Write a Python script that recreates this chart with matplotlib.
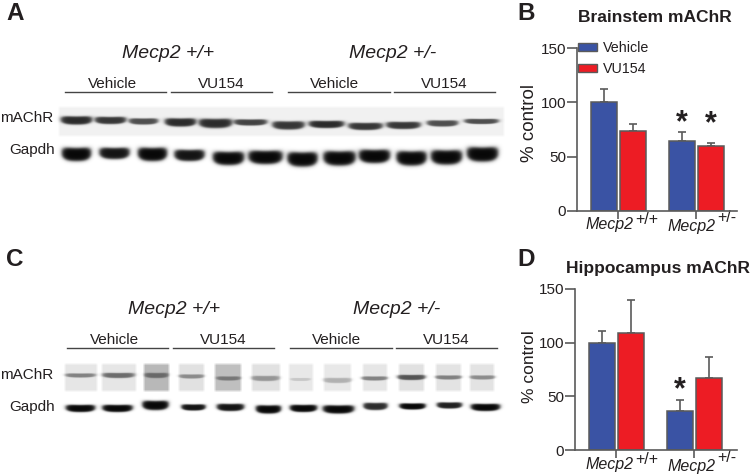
import numpy as np
import matplotlib
matplotlib.use('Agg')
import matplotlib.pyplot as plt
from matplotlib.patches import Patch

plt.rcParams['font.family'] = ['Liberation Sans', 'DejaVu Sans']

W, H = 750, 475
TEXT = '#231f20'
AXIS = '#5a5a5a'
BLUE = '#3a53a4'
RED = '#ed1c24'

# bar chart values
groups = ['+/+', '+/-']
treatments = ['Vehicle', 'VU154']
brainstem_vehicle = [100, 64]
brainstem_vu154 = [74, 60]
brainstem_vehicle_err = [12, 9]
brainstem_vu154_err = [6, 3]
hippo_vehicle = [100, 36]
hippo_vu154 = [109, 67]
hippo_vehicle_err = [11, 11]
hippo_vu154_err = [31, 20]
y_ticks = [0, 50, 100, 150]

# blot bands, one (x, y, width, height, darkness) per lane
a_machr = [(76, 120, 31, 8, .85), (110, 120, 31, 7, .8), (143, 121, 29, 6, .7),
           (180, 122, 31, 8, .85), (215, 123, 33, 9, .85), (250, 122, 33, 6, .75),
           (288, 125, 32, 8, .8), (326, 124, 35, 7, .85), (365, 126, 34, 7, .8),
           (403, 125, 34, 7, .8), (442, 123, 31, 6, .7), (481, 121, 34, 5, .7)]
a_gapdh = [(76, 154, 29, 13, 1), (114, 153, 30, 11, .95), (152, 154, 29, 13, 1),
           (189, 155, 30, 11, .95), (228, 158, 31, 13, 1), (265, 157, 34, 13, 1),
           (302, 159, 30, 14, 1), (339, 158, 32, 14, 1), (374, 156, 31, 13, 1),
           (411, 158, 30, 14, 1), (446, 157, 31, 14, 1), (482, 154, 31, 14, 1)]
c_machr = [(80, 375, 30, 4, .45), (118, 375, 32, 5, .55), (156, 375, 24, 5, .45),
           (191, 376, 25, 4, .4), (228, 378, 24, 4, .4), (265, 378, 28, 5, .35),
           (300, 379, 20, 3, .15), (337, 380, 28, 5, .25), (374, 378, 26, 4, .45),
           (411, 377, 28, 5, .65), (448, 377, 26, 4, .45), (482, 377, 25, 4, .4)]
c_gapdh = [(80, 408, 29, 7, 1), (117, 408, 30, 7, 1), (155, 405, 26, 9, 1),
           (193, 407, 24, 6, .95), (230, 407, 27, 7, .95), (268, 409, 25, 8, 1),
           (303, 408, 27, 7, 1), (338, 409, 31, 8, 1), (375, 406, 24, 7, .85),
           (412, 406, 26, 6, 1), (449, 405, 25, 6, .9), (485, 407, 29, 7, 1)]
# x0, x1, grey level of the lane strips behind the panel C mAChR bands
c_lanes = [(63, 98, .9), (100, 137, .9), (142, 170, .72), (177, 205, .88),
           (213, 242, .75), (250, 281, .88), (287, 314, .91), (322, 352, .91),
           (361, 388, .9), (397, 425, .88), (434, 462, .89), (468, 495, .89)]


def paint_rect(img, x0, x1, y0, y1, grey, soft=1.5):
    yy, xx = np.mgrid[0:H, 0:W]
    mask = (np.clip((xx - x0) / soft, 0, 1) * np.clip((x1 - xx) / soft, 0, 1)
            * np.clip((yy - y0) / soft, 0, 1) * np.clip((y1 - yy) / soft, 0, 1))
    img[:] = img * (1 - mask) + grey * mask


def paint_band(img, x, y, w, h, dark):
    yy, xx = np.mgrid[0:H, 0:W]
    dx = np.abs(xx - x) / (w / 2)
    # bands sag a little in the middle of the lane
    dy = np.abs(yy - y + 0.12 * h * dx ** 2) / (h / 2)
    d = (dx ** 4 + dy ** 2.4) ** (1 / 2.4)
    cover = 1 / (1 + np.exp(np.clip((d - 1) / 0.14, -30, 30)))
    img[:] = img * (1 - dark * cover) + 0.03 * dark * cover


img = np.ones((H, W))
paint_rect(img, 57, 505, 105, 137, .945, soft=3)
for x0, x1, grey in c_lanes:
    paint_rect(img, x0, x1, 362, 392, grey, soft=3)
for band in a_machr + a_gapdh + c_machr + c_gapdh:
    paint_band(img, *band)

fig = plt.figure(figsize=(W / 100, H / 100), dpi=100, facecolor='white')
bg = fig.add_axes([0, 0, 1, 1])
bg.imshow(img, cmap='gray', vmin=0, vmax=1, extent=(0, W, H, 0), aspect='auto',
          interpolation='bilinear')
bg.set_xlim(0, W)
bg.set_ylim(H, 0)
bg.axis('off')


def label(x, y, s, size, **kw):
    kw.setdefault('ha', 'center')
    kw.setdefault('va', 'center')
    bg.text(x, y, s, fontsize=size, color=TEXT, **kw)


def blot_header(dy, dx, x_title):
    for x, s in zip(x_title, ['Mecp2 +/+', 'Mecp2 +/-']):
        label(x, 54 + dy, s, 14, style='italic')
    for x, s in [(112 + dx, 'Vehicle'), (221 + dx, 'VU154'), (335 + dx, 'Vehicle'), (444 + dx, 'VU154')]:
        label(x, 84 + dy, s, 11)
    for x0, x1 in [(65, 166), (171, 272), (288, 390), (394, 495)]:
        bg.plot([x0 + dx, x1 + dx], [92 + dy, 92 + dy], color='#444444', lw=1)


blot_header(0, 0, (168, 393))
blot_header(256, 2, (174, 397))
label(53, 118, 'mAChR', 11, ha='right')
label(55, 150, 'Gapdh', 11, ha='right')
label(53, 375, 'mAChR', 11, ha='right')
label(55, 407, 'Gapdh', 11, ha='right')

for x, y, s in [(6, 13, 'A'), (517, 13, 'B'), (6, 259, 'C'), (517, 259, 'D')]:
    label(x, y, s, 17.5, ha='left', fontweight='bold')
label(655, 18, 'Brainstem mAChR', 12.5, fontweight='bold')
label(658, 268, 'Hippocampus mAChR', 12.5, fontweight='bold')


def bar_panel(left, right, y0, y150, center0, center1, vehicle, vu154, vehicle_err, vu154_err):
    ax = fig.add_axes([left / W, 1 - y0 / H, (right - left) / W, (y0 - y150) / H])
    ax.patch.set_alpha(0)
    step = center1 - center0
    ax.set_xlim((left - center0) / step, (right - center0) / step)
    ax.set_ylim(0, 150)
    x = np.arange(len(groups))
    off = 14.5 / step
    width = 26 / step
    for xs, vals, errs, colour, name in [(x - off, vehicle, vehicle_err, BLUE, treatments[0]),
                                         (x + off, vu154, vu154_err, RED, treatments[1])]:
        ax.errorbar(xs, vals, yerr=[np.zeros(len(errs)), errs], fmt='none', ecolor=AXIS,
                    elinewidth=1.2, capsize=3, capthick=1.2, zorder=1)
        ax.bar(xs, vals, width, color=colour, edgecolor=AXIS, linewidth=1.1, zorder=2, label=name)
    for side in ['top', 'right']:
        ax.spines[side].set_visible(False)
    for side in ['left', 'bottom']:
        ax.spines[side].set_color(AXIS)
        ax.spines[side].set_linewidth(1.2)
    ax.set_yticks(y_ticks)
    ax.set_xticks(x)
    ax.set_xticklabels([])
    ax.tick_params(axis='y', labelsize=11, labelcolor=TEXT, color=AXIS, width=1.2, length=7, pad=1)
    ax.tick_params(axis='x', color=AXIS, width=1.2, length=6)
    return ax, x, off


ax_b, x_b, off_b = bar_panel(577, 737, 211, 48, 618, 696, brainstem_vehicle, brainstem_vu154,
                             brainstem_vehicle_err, brainstem_vu154_err)
ax_d, x_d, off_d = bar_panel(575, 737, 450, 289, 616, 694, hippo_vehicle, hippo_vu154,
                             hippo_vehicle_err, hippo_vu154_err)

label(529, 123, '% control', 13.5, rotation=90)
label(529, 367, '% control', 12.5, rotation=90)

ax_b.legend(handles=[Patch(facecolor=BLUE, edgecolor=AXIS, label=treatments[0]),
                     Patch(facecolor=RED, edgecolor=AXIS, label=treatments[1])],
            loc='upper left', bbox_to_anchor=(578 / W, 1 - 41 / H), bbox_transform=fig.transFigure,
            frameon=False, fontsize=10.3, handlelength=1.35, handleheight=.55, handletextpad=.4,
            labelspacing=.5, borderpad=0, borderaxespad=0, labelcolor=TEXT)

# significance stars
ax_b.text(x_b[1] - off_b, 81, '*', fontsize=22, fontweight='bold', ha='center', va='center', color=TEXT)
ax_b.text(x_b[1] + off_b, 80, '*', fontsize=22, fontweight='bold', ha='center', va='center', color=TEXT)
ax_d.text(x_d[1] - off_d, 56, '*', fontsize=22, fontweight='bold', ha='center', va='center', color=TEXT)

# x labels: italic gene name with raised genotype
for dy in [0, 240]:
    label(610, 225 + dy, 'Mecp2', 11.5, style='italic')
    label(647, 220 + dy, groups[0], 11.5)
    label(691, 226 + dy, 'Mecp2', 11.5, style='italic')
    label(727, 217 + dy, groups[1], 11.5)

fig.savefig('out.png', dpi=100)
